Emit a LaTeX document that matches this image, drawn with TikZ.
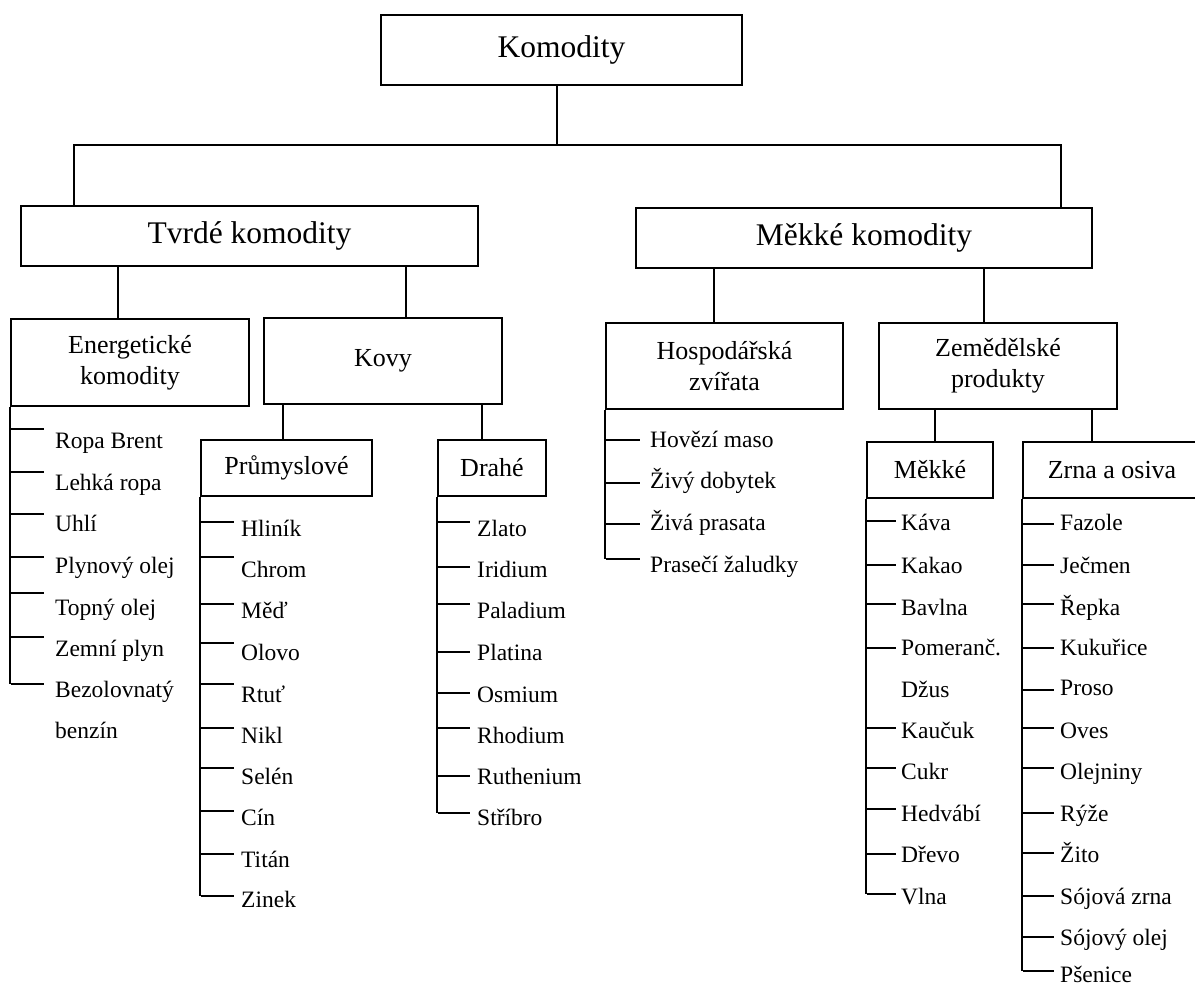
\documentclass[tikz,border=0pt]{standalone}
\usepackage{fontspec}
\setmainfont{Liberation Serif}
\begin{document}
\begin{tikzpicture}[x=1pt,y=-1pt,
  link/.style={line width=1.6pt},
  box/.style={draw, line width=1.6pt, inner sep=0pt, align=center},
  lvlA/.style={box, font=\fontsize{31.5}{36}\selectfont},
  lvlB/.style={box, font=\fontsize{26}{31}\selectfont},
  item/.style={anchor=base west, inner sep=0pt, font=\fontsize{23.5}{28}\selectfont}]

\useasboundingbox (0,0) rectangle (1195,986);
\clip (0,0) rectangle (1195,986);

% ---- boxes ----
\node[lvlA, minimum width=361pt, minimum height=70pt] (root) at (561.5,50) {Komodity};
\node[lvlA, minimum width=457pt, minimum height=60pt] (hard) at (249.5,236) {\raisebox{-3pt}{Tvrdé komodity}};
\node[lvlA, minimum width=456pt, minimum height=60pt] (soft) at (864,238) {\raisebox{-3pt}{Měkké komodity}};

\node[lvlB, minimum width=238pt, minimum height=87pt] (energy) at (130,362.5) {Energetické\\komodity};
\node[lvlB, minimum width=238pt, minimum height=86pt] (metals) at (383,361) {\raisebox{-3pt}{Kovy}};
\node[lvlB, minimum width=237pt, minimum height=86pt] (stock) at (724.5,366) {Hospodářská\\zvířata};
\node[lvlB, minimum width=238pt, minimum height=86pt] (agri) at (998,366) {Zemědělské\\produkty};

\node[lvlB, minimum width=171pt, minimum height=56pt] (indus) at (286.5,468) {Průmyslové};
\node[lvlB, minimum width=108pt, minimum height=56pt] (prec) at (492,468) {Drahé};
\node[lvlB, minimum width=126pt, minimum height=56pt] (softsub) at (930,470) {Měkké};
\node[lvlB, minimum width=178pt, minimum height=56pt] (grain) at (1112,470) {Zrna a osiva};

% ---- tree connectors ----
\coordinate (rootstem) at (557,145);
\coordinate (busL) at (74,145);
\coordinate (busR) at (1061,145);
\draw[link] (root.south -| rootstem) -- (rootstem);
\draw[link] (hard.north -| busL) -- (busL) -- (busR) -- (soft.north -| busR);

\coordinate (hA) at (118,0);  \coordinate (hB) at (406,0);
\draw[link] (hard.south -| hA) -- (energy.north -| hA);
\draw[link] (hard.south -| hB) -- (metals.north -| hB);

\coordinate (sA) at (714,0);  \coordinate (sB) at (984,0);
\draw[link] (soft.south -| sA) -- (stock.north -| sA);
\draw[link] (soft.south -| sB) -- (agri.north -| sB);

\coordinate (mA) at (283,0);  \coordinate (mB) at (482,0);
\draw[link] (metals.south -| mA) -- (indus.north -| mA);
\draw[link] (metals.south -| mB) -- (prec.north -| mB);

\coordinate (aA) at (935,0);  \coordinate (aB) at (1092,0);
\draw[link] (agri.south -| aA) -- (softsub.north -| aA);
\draw[link] (agri.south -| aB) -- (grain.north -| aB);

% ---- leaf lists: spine at the box's left edge, one tick per item ----
% Energetické komodity
\draw[link] (energy.south west) -- (energy.south west |- 0,684);
\foreach \txt/\b/\t [count=\i] in {Ropa Brent/448/429, Lehká ropa/490/472, Uhlí/531/514,
    Plynový olej/573/557, Topný olej/615/593, Zemní plyn/656/637, Bezolovnatý/697/684} {
  \node[item] (en-\i) at (55,\b) {\txt};
  \draw[link] (11,\t) -- (44,\t);
}
\node[item] (en-8) at (55,738) {benzín};

% Průmyslové kovy
\draw[link] (indus.south west) -- (indus.south west |- 0,896);
\foreach \txt/\b/\t [count=\i] in {Hliník/536/522, Chrom/577/557, Měď/618/604, Olovo/660/643,
    Rtuť/702/684, Nikl/743/728, Selén/784/768, Cín/825/811, Titán/867/854, Zinek/907/896} {
  \node[item] (in-\i) at (241,\b) {\txt};
  \draw[link] (201,\t) -- (234,\t);
}

% Drahé kovy
\draw[link] (prec.south west) -- (prec.south west |- 0,813);
\foreach \txt/\b/\t [count=\i] in {Zlato/536/522, Iridium/577/567, Paladium/618/604, Platina/660/652,
    Osmium/702/693, Rhodium/743/728, Ruthenium/784/776, Stříbro/825/813} {
  \node[item] (pr-\i) at (477,\b) {\txt};
  \draw[link] (438,\t) -- (470,\t);
}

% Hospodářská zvířata
\draw[link] (stock.south west) -- (stock.south west |- 0,559);
\foreach \txt/\b/\t [count=\i] in {Hovězí maso/447/440, Živý dobytek/488/483,
    Živá prasata/530/524, Prasečí žaludky/572/559} {
  \node[item] (st-\i) at (650,\b) {\txt};
  \draw[link] (606,\t) -- (640,\t);
}

% Měkké zemědělské produkty
\draw[link] (softsub.south west) -- (softsub.south west |- 0,894);
\foreach \txt/\b/\t [count=\i] in {Káva/530/521, Kakao/573/565, Bavlna/615/604, Pomeranč./655/648,
    Kaučuk/738/728, Cukr/779/768, Hedvábí/821/809, Dřevo/862/854, Vlna/904/894} {
  \node[item] (so-\i) at (901,\b) {\txt};
  \draw[link] (867,\t) -- (896,\t);
}
\node[item] (so-dz) at (901,697) {Džus};

% Zrna a osiva
\draw[link] (grain.south west) -- (grain.south west |- 0,971);
\foreach \txt/\b/\t [count=\i] in {Fazole/530/524, Ječmen/573/565, Řepka/615/604, Kukuřice/655/648,
    Proso/695/690, Oves/738/728, Olejniny/779/768, Rýže/821/813, Žito/862/853,
    Sójová zrna/904/896, Sójový olej/945/937, Pšenice/982/971} {
  \node[item] (gr-\i) at (1060,\b) {\txt};
  \draw[link] (1023,\t) -- (1054,\t);
}
\end{tikzpicture}
\end{document}
